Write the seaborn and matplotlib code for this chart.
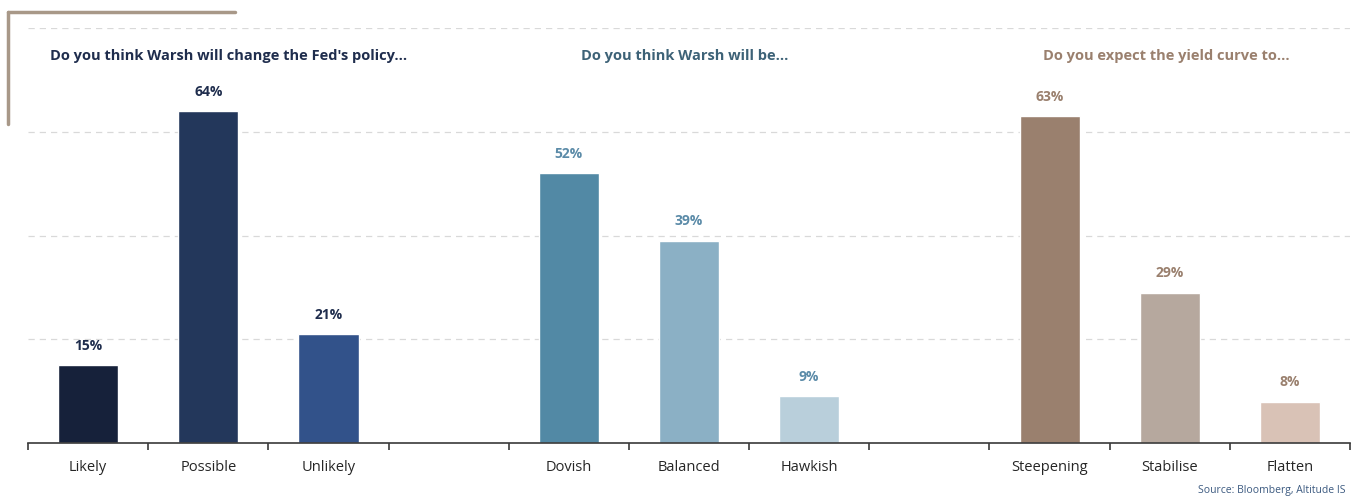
import matplotlib
matplotlib.use("Agg")
import matplotlib.pyplot as plt
from matplotlib.lines import Line2D
import seaborn as sns
import pandas as pd
import numpy as np

categories = ["Likely", "Possible", "Unlikely", " ", "Dovish", "Balanced", "Hawkish", "  ",
              "Steepening", "Stabilise", "Flatten"]
values = [15, 64, 21, 0, 52, 39, 9, 0, 63, 29, 8]
bar_colors = ["#16213A", "#23375B", "#32528A", "#FFFFFF",
              "#5289A5", "#8BB0C5", "#B9CFDB", "#FFFFFF",
              "#9A806E", "#B6A89E", "#D9C2B6"]
label_colors = ["#1F2D4D", "#1F2D4D", "#1F2D4D", None,
                "#5B8BA8", "#5B8BA8", "#5B8BA8", None,
                "#9A806E", "#9A806E", "#9A806E"]
titles = ["Do you think Warsh will change the Fed's policy...",
          "Do you think Warsh will be...",
          "Do you expect the yield curve to..."]
title_x = [1.17, 4.96, 8.97]
title_colors = ["#1F2D4D", "#3D6277", "#9A806E"]
source = "Source: Bloomberg, Altitude IS"

sns.set_theme(style="white")
plt.rcParams["font.family"] = ["Open Sans", "DejaVu Sans"]

fig = plt.figure(figsize=(13.54, 5.0), dpi=100)
ax = fig.add_axes([28 / 1354, 57 / 500, 1322 / 1354, 415 / 500])

df = pd.DataFrame({"cat": categories, "val": values})
sns.barplot(data=df, x="cat", y="val", hue="cat", order=categories, hue_order=categories,
            palette=bar_colors, width=0.5, legend=False, ax=ax, saturation=1)

ax.set_xlim(-0.5, len(categories) - 0.5)
ax.set_ylim(0, 80)
ax.set_yticks([20, 40, 60, 80])
ax.yaxis.grid(True, color="#D9D9D9", linestyle=(0, (5, 4)), linewidth=0.9)
ax.set_axisbelow(True)
ax.tick_params(axis="y", left=False, labelleft=False)
for s in ["left", "right", "top"]:
    ax.spines[s].set_visible(False)
ax.spines["bottom"].set_color("#3A3A3A")
ax.spines["bottom"].set_linewidth(1.2)
ax.set_xlabel("")
ax.set_ylabel("")

ax.set_xticks(range(len(categories)))
ax.set_xticklabels(categories, fontsize=10.5, color="#262626")
ax.set_xticks(np.arange(-0.5, len(categories), 1.0), minor=True)
ax.tick_params(axis="x", which="major", bottom=True, length=0, pad=12)
ax.tick_params(axis="x", which="minor", bottom=True, length=5, width=1.2,
               color="#3A3A3A", direction="out")

for i, (v, c) in enumerate(zip(values, label_colors)):
    if c is None:
        continue
    ax.annotate(f"{v}%", xy=(i, v), xytext=(0, 9), textcoords="offset points",
                ha="center", va="bottom", fontsize=10, fontweight="bold", color=c)

for t, x, c in zip(titles, title_x, title_colors):
    ax.text(x, 74.6, t, ha="center", va="center", fontsize=10.5, fontweight="bold", color=c)

fig.text(1346 / 1354, 1 - 490 / 500, source, ha="right", va="center", fontsize=7.5, color="#3C5A80")

fig.add_artist(Line2D([8 / 1354, 235 / 1354], [1 - 12 / 500, 1 - 12 / 500],
                      color="#A89888", linewidth=2.5, transform=fig.transFigure))
fig.add_artist(Line2D([8 / 1354, 8 / 1354], [1 - 12 / 500, 1 - 124 / 500],
                      color="#A89888", linewidth=2.5, transform=fig.transFigure))

fig.savefig("out.png", dpi=100)
